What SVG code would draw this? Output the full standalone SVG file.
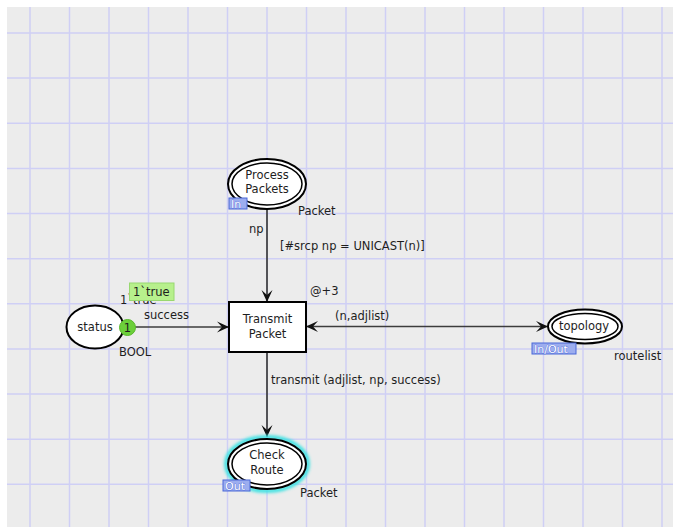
<svg xmlns="http://www.w3.org/2000/svg" width="673" height="527" viewBox="0 0 673 527">
  <style>
    text { font-family: "DejaVu Sans", Verdana, sans-serif; font-size: 11.5px; fill: #1e1e1e; }
    .grid line { stroke: #cfcff5; stroke-width: 1.5; }
    .node { fill: #ffffff; stroke: #000000; stroke-width: 2; }
    .inner { fill: none; stroke: #000000; stroke-width: 1.5; }
    .arc { fill: none; stroke: #3c3c3c; stroke-width: 1.7; }
    .tag rect { fill: #9cadef; stroke: #4a68d8; stroke-width: 1; }
    .tag text { font-size: 11px; fill: #ffffff; stroke: #3f5fd3; stroke-width: 0.6; paint-order: stroke; }
    .mid { text-anchor: middle; }
  </style>
  <defs>
    <marker id="ah" viewBox="-13 -7 14 14" refX="0" refY="0" markerWidth="14" markerHeight="14" markerUnits="userSpaceOnUse" orient="auto-start-reverse">
      <path d="M0,0 L-12,-5.5 L-7,0 L-12,5.5 Z" fill="#111111"/>
    </marker>
    <filter id="glow" x="-30%" y="-30%" width="160%" height="160%">
      <feGaussianBlur stdDeviation="1.6"/>
    </filter>
  </defs>

  <!-- canvas -->
  <rect width="673" height="527" fill="#ffffff"/>
  <rect x="7" y="7" width="666" height="520" fill="#ececec"/>

  <!-- grid -->
  <g class="grid">
    <line x1="30" y1="7" x2="30" y2="527"/>
    <line x1="69.5" y1="7" x2="69.5" y2="527"/>
    <line x1="109" y1="7" x2="109" y2="527"/>
    <line x1="148.5" y1="7" x2="148.5" y2="527"/>
    <line x1="188" y1="7" x2="188" y2="527"/>
    <line x1="227.5" y1="7" x2="227.5" y2="527"/>
    <line x1="267" y1="7" x2="267" y2="527"/>
    <line x1="306.5" y1="7" x2="306.5" y2="527"/>
    <line x1="346" y1="7" x2="346" y2="527"/>
    <line x1="385.5" y1="7" x2="385.5" y2="527"/>
    <line x1="425" y1="7" x2="425" y2="527"/>
    <line x1="464.5" y1="7" x2="464.5" y2="527"/>
    <line x1="504" y1="7" x2="504" y2="527"/>
    <line x1="543.5" y1="7" x2="543.5" y2="527"/>
    <line x1="583" y1="7" x2="583" y2="527"/>
    <line x1="622.5" y1="7" x2="622.5" y2="527"/>
    <line x1="662" y1="7" x2="662" y2="527"/>
    <line x1="7" y1="33" x2="673" y2="33"/>
    <line x1="7" y1="78.1" x2="673" y2="78.1"/>
    <line x1="7" y1="123.3" x2="673" y2="123.3"/>
    <line x1="7" y1="168.4" x2="673" y2="168.4"/>
    <line x1="7" y1="213.5" x2="673" y2="213.5"/>
    <line x1="7" y1="258.7" x2="673" y2="258.7"/>
    <line x1="7" y1="303.8" x2="673" y2="303.8"/>
    <line x1="7" y1="348.9" x2="673" y2="348.9"/>
    <line x1="7" y1="394" x2="673" y2="394"/>
    <line x1="7" y1="439.2" x2="673" y2="439.2"/>
    <line x1="7" y1="484.3" x2="673" y2="484.3"/>
  </g>

  <!-- connectors -->
  <g id="arcs">
    <line class="arc" x1="267" y1="209" x2="267" y2="302" marker-end="url(#ah)"/>
    <line class="arc" x1="124" y1="327" x2="229" y2="327" marker-end="url(#ah)"/>
    <line class="arc" x1="306" y1="326.5" x2="548" y2="326.5" marker-start="url(#ah)" marker-end="url(#ah)"/>
    <line class="arc" x1="267" y1="352" x2="267" y2="437" marker-end="url(#ah)"/>
    <text x="249" y="233">np</text>
    <text x="280" y="250">[#srcp np = UNICAST(n)]</text>
    <text x="144" y="319">success</text>
    <text x="335" y="320">(n,adjlist)</text>
    <text x="271" y="384">transmit (adjlist, np, success)</text>
  </g>

  <!-- place: Process Packets (input port) -->
  <g id="process-packets">
    <ellipse class="node" cx="267" cy="184" rx="39" ry="25"/>
    <ellipse class="inner" cx="267" cy="184" rx="35" ry="21"/>
    <text class="mid" x="267" y="179">Process</text>
    <text class="mid" x="267" y="193">Packets</text>
    <g class="tag">
      <rect x="229" y="198" width="18" height="11"/>
      <text x="231" y="207.5">In</text>
    </g>
    <text x="298" y="215">Packet</text>
  </g>

  <!-- place: status, with its current marking -->
  <g id="status">
    <ellipse class="node" cx="95" cy="327" rx="28.5" ry="21.5"/>
    <text class="mid" x="95" y="331">status</text>
    <text x="120" y="304">1`true</text>
    <rect x="129.5" y="283" width="44.5" height="17.5" fill="#b7f08c" stroke="#98d870" stroke-width="1"/>
    <text x="133" y="296">1`true</text>
    <circle cx="127.5" cy="327.5" r="8" fill="#6ccf3a" stroke="#58b82c" stroke-width="1"/>
    <text class="mid" x="127.5" y="331.5">1</text>
    <text x="119" y="356">BOOL</text>
  </g>

  <!-- transition: Transmit Packet -->
  <g id="transmit-packet">
    <rect class="node" x="229" y="302" width="77" height="50"/>
    <text class="mid" x="267.5" y="323">Transmit</text>
    <text class="mid" x="267.5" y="338">Packet</text>
    <text x="310" y="295">@+3</text>
  </g>

  <!-- place: topology (input/output port) -->
  <g id="topology">
    <ellipse class="node" cx="585" cy="326.5" rx="37" ry="17"/>
    <ellipse class="inner" cx="585" cy="326.5" rx="33" ry="13"/>
    <text class="mid" x="584" y="330">topology</text>
    <g class="tag">
      <rect x="532" y="343" width="44" height="11"/>
      <text x="534" y="352.5">In/Out</text>
    </g>
    <text x="614" y="360">routelist</text>
  </g>

  <!-- place: Check Route (output port, selected) -->
  <g id="check-route">
    <ellipse cx="267" cy="464" rx="41" ry="27" fill="none" stroke="#3fe3e3" stroke-width="4" filter="url(#glow)"/>
    <ellipse class="node" cx="267" cy="464" rx="39" ry="25"/>
    <ellipse class="inner" cx="267" cy="464" rx="35" ry="21"/>
    <text class="mid" x="267" y="459">Check</text>
    <text class="mid" x="267" y="474">Route</text>
    <g class="tag">
      <rect x="223" y="480" width="27" height="11"/>
      <text x="225" y="489.5">Out</text>
    </g>
    <text x="300" y="497">Packet</text>
  </g>
</svg>
